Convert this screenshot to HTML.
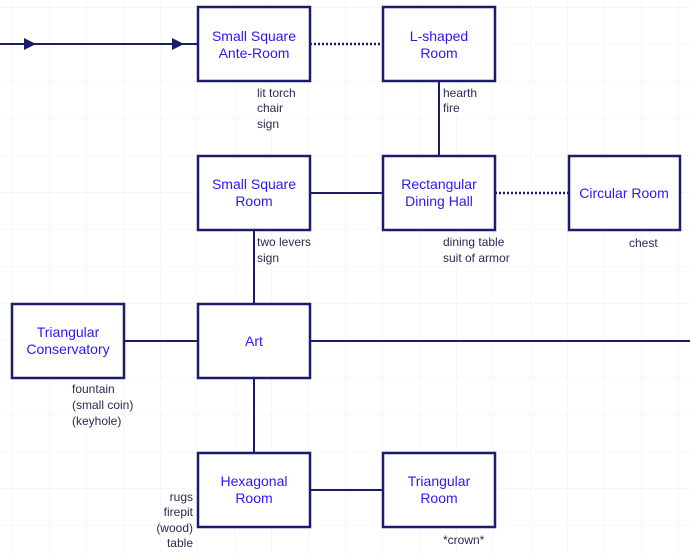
<!DOCTYPE html>
<html><head><meta charset="utf-8"><style>
html,body{margin:0;padding:0;background:#fff}
svg{display:block}
.b{fill:#fff;stroke:#1c1c6c;stroke-width:2.5}
.t{font-family:"Liberation Sans",sans-serif;font-size:14px;fill:#2a1af0;text-anchor:middle}
.l{font-family:"Liberation Sans",sans-serif;font-size:12px;fill:#2a2a55}
.c{stroke:#1c1c6c;stroke-width:2;fill:none}
.d{stroke:#1c1c6c;stroke-width:2.5;stroke-dasharray:2 2;fill:none}
</style></head><body>
<svg width="690" height="553" xmlns="http://www.w3.org/2000/svg">
<defs><pattern id="g" x="12.5" y="7" width="37" height="37" patternUnits="userSpaceOnUse"><path d="M0 0H37M0 0V37" stroke="#efefef" stroke-width="1" fill="none"/></pattern></defs>
<rect width="690" height="553" fill="url(#g)"/>
<!-- connectors -->
<line class="c" x1="0" y1="44" x2="198" y2="44"/>
<polygon points="24,38 36,44 24,50" fill="#1c1c6c"/>
<polygon points="172,38 184,44 172,50" fill="#1c1c6c"/>
<line class="d" x1="310" y1="44" x2="383" y2="44"/>
<line class="c" x1="439" y1="81" x2="439" y2="156"/>
<line class="c" x1="310" y1="193" x2="383" y2="193"/>
<line class="d" x1="495" y1="193" x2="569" y2="193"/>
<line class="c" x1="254" y1="230" x2="254" y2="304"/>
<line class="c" x1="124" y1="341" x2="198" y2="341"/>
<line class="c" x1="310" y1="341" x2="690" y2="341"/>
<line class="c" x1="254" y1="378" x2="254" y2="453"/>
<line class="c" x1="310" y1="490" x2="383" y2="490"/>
<!-- boxes -->
<rect class="b" x="198" y="7" width="112" height="74"/>
<text class="t" x="254" y="41">Small Square</text><text class="t" x="254" y="58">Ante-Room</text>
<rect class="b" x="383" y="7" width="112" height="74"/>
<text class="t" x="439" y="41">L-shaped</text><text class="t" x="439" y="58">Room</text>
<rect class="b" x="198" y="156" width="112" height="74"/>
<text class="t" x="254" y="189">Small Square</text><text class="t" x="254" y="206">Room</text>
<rect class="b" x="383" y="156" width="112" height="74"/>
<text class="t" x="439" y="189">Rectangular</text><text class="t" x="439" y="206">Dining Hall</text>
<rect class="b" x="569" y="156" width="111" height="74"/>
<text class="t" x="624" y="198">Circular Room</text>
<rect class="b" x="12" y="304" width="112" height="74"/>
<text class="t" x="68" y="337">Triangular</text><text class="t" x="68" y="354">Conservatory</text>
<rect class="b" x="198" y="304" width="112" height="74"/>
<text class="t" x="254" y="346">Art</text>
<rect class="b" x="198" y="453" width="112" height="74"/>
<text class="t" x="254" y="486">Hexagonal</text><text class="t" x="254" y="503">Room</text>
<rect class="b" x="383" y="453" width="112" height="74"/>
<text class="t" x="439" y="486">Triangular</text><text class="t" x="439" y="503">Room</text>
<!-- labels -->
<text class="l" x="257" y="97">lit torch</text><text class="l" x="257" y="112">chair</text><text class="l" x="257" y="128">sign</text>
<text class="l" x="443" y="97">hearth</text><text class="l" x="443" y="112">fire</text>
<text class="l" x="257" y="246">two levers</text><text class="l" x="257" y="262">sign</text>
<text class="l" x="443" y="246">dining table</text><text class="l" x="443" y="262">suit of armor</text>
<text class="l" x="629" y="247">chest</text>
<text class="l" x="72" y="393">fountain</text><text class="l" x="72" y="409">(small coin)</text><text class="l" x="72" y="425">(keyhole)</text>
<g style="text-anchor:end"><text class="l" x="193" y="501">rugs</text><text class="l" x="193" y="516">firepit</text><text class="l" x="193" y="532">(wood)</text><text class="l" x="193" y="547">table</text></g>
<text class="l" x="443" y="544">*crown*</text>
</svg>
</body></html>
